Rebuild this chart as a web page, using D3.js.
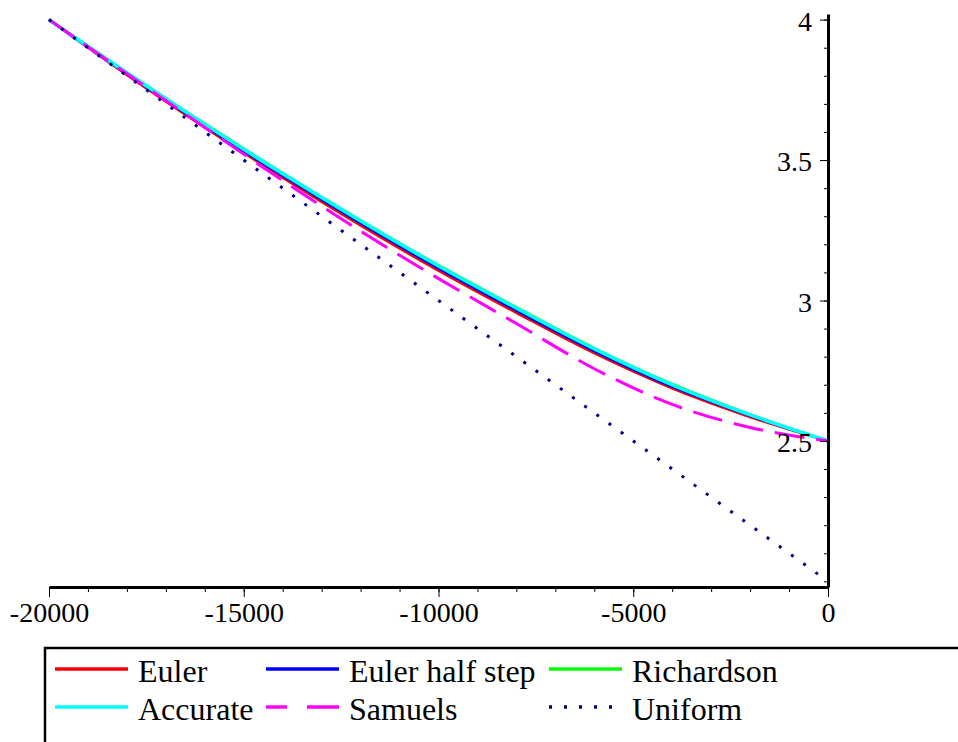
<!DOCTYPE html>
<meta charset="utf-8">

<!-- Load d3.js -->
<script src="https://d3js.org/d3.v7.min.js"></script>

<div id="my_dataviz"></div>

<style>
  body { margin: 0; background: #ffffff; }
</style>

<script>

// ---------------------------//
//       DATA                 //
// ---------------------------//

var xValues    = [-20000, -18000, -16000, -14000, -12000, -10000, -8000, -6000, -4000, -2000, 0];
var euler      = [4.000, 3.804, 3.617, 3.438, 3.268, 3.107, 2.957, 2.813, 2.688, 2.586, 2.500];
var eulerHalf  = [4.000, 3.807, 3.622, 3.445, 3.276, 3.115, 2.965, 2.821, 2.694, 2.590, 2.500];
var richardson = [4.000, 3.812, 3.629, 3.453, 3.285, 3.125, 2.975, 2.830, 2.702, 2.594, 2.500];
var accurate   = [4.000, 3.810, 3.627, 3.451, 3.283, 3.123, 2.973, 2.828, 2.700, 2.593, 2.500];
var samuels    = [4.000, 3.807, 3.616, 3.427, 3.247, 3.078, 2.918, 2.757, 2.630, 2.548, 2.500];
var uniform    = [4.0, 3.8, 3.6, 3.4, 3.2, 3.0, 2.8, 2.6, 2.4, 2.2, 2.0];

var seriesNames  = ["Euler", "Euler half step", "Richardson", "Accurate", "Samuels", "Uniform"];
var seriesValues = [euler, eulerHalf, richardson, accurate, samuels, uniform];
var seriesColors = ["#ff0000", "#0000ff", "#00ff00", "#00ffff", "#ff00ff", "#000080"];

var xTicks = [-20000, -15000, -10000, -5000, 0];
var yTicks = [2.5, 3, 3.5, 4];

var serif = "Liberation Serif";

// ---------------------------//
//       SVG                  //
// ---------------------------//

var W = 958, H = 742;
var svg = d3.select("#my_dataviz")
  .append("svg")
    .attr("width", W)
    .attr("height", H)
    .attr("font-family", serif);

// scales
var x = d3.scaleLinear()
  .domain([-20000, 0])
  .range([49, 828]);
var y = d3.scaleLinear()
  .domain([1.98, 4.02])
  .range([587, 14]);

// ---------------------------//
//       LINES                //
// ---------------------------//

var line = d3.line()
  .x(function(d) { return x(d[0]); })
  .y(function(d) { return y(d[1]); })
  .curve(d3.curveMonotoneX);

var dashes = [null, null, null, null, "30,12", "3,12"];
var widths = [3, 3, 3, 3.5, 3, 3];

seriesValues.forEach(function(vals, i) {
  var pts = xValues.map(function(xv, j) { return [xv, vals[j]]; });
  svg.append("path")
    .datum(pts)
    .attr("d", line)
    .attr("fill", "none")
    .attr("stroke", seriesColors[i])
    .attr("stroke-width", widths[i])
    .attr("stroke-dasharray", dashes[i]);
});

// ---------------------------//
//       AXES                 //
// ---------------------------//

// minor ticks first
svg.append("g")
  .attr("transform", "translate(0,587)")
  .call(d3.axisBottom(x).tickValues(d3.range(-20000, 1, 1000)).tickSize(5).tickFormat(""))
  .call(function(g) { g.select(".domain").remove(); });
svg.append("g")
  .attr("transform", "translate(828,0)")
  .call(d3.axisLeft(y).tickValues(d3.range(20, 41).map(function(v) { return v / 10; })).tickSize(4).tickFormat(""))
  .call(function(g) { g.select(".domain").remove(); });

// X axis
var xAxis = svg.append("g")
  .attr("transform", "translate(0,587)")
  .call(d3.axisBottom(x).tickValues(xTicks).tickSize(10).tickSizeOuter(0)
    .tickFormat(function(d) { return String(d); }));
xAxis.attr("font-family", serif).attr("font-size", 28);
xAxis.select(".domain").attr("stroke-width", 3);
xAxis.selectAll("text")
  .attr("dy", null)
  .attr("y", 35);

// Y axis
var yAxis = svg.append("g")
  .attr("transform", "translate(828,0)")
  .call(d3.axisLeft(y).tickValues(yTicks).tickSize(8).tickPadding(8).tickSizeOuter(0)
    .tickFormat(function(d) { return String(d); }));
yAxis.attr("font-family", serif).attr("font-size", 28);
yAxis.select(".domain").attr("stroke-width", 3);
yAxis.selectAll("text")
  .attr("dy", "0.38em");

// ---------------------------//
//       LEGEND               //
// ---------------------------//

svg.append("rect")
  .attr("x", 45)
  .attr("y", 648)
  .attr("width", 960)
  .attr("height", 120)
  .attr("fill", "none")
  .attr("stroke", "black")
  .attr("stroke-width", 2.5);

var colX = [55, 266, 549];
var rowY = [669, 707];
var legendDash = [null, null, null, null, "21,20,33", "3,12"];

seriesNames.forEach(function(name, i) {
  var cx = colX[i % 3], cy = rowY[Math.floor(i / 3)];
  svg.append("line")
    .attr("x1", cx)
    .attr("x2", cx + 73)
    .attr("y1", cy)
    .attr("y2", cy)
    .attr("stroke", seriesColors[i])
    .attr("stroke-width", 3.5)
    .attr("stroke-dasharray", legendDash[i]);
  svg.append("text")
    .attr("x", cx + 83)
    .attr("y", cy + 13)
    .attr("font-family", serif)
    .attr("font-size", 32)
    .text(name);
});

</script>
